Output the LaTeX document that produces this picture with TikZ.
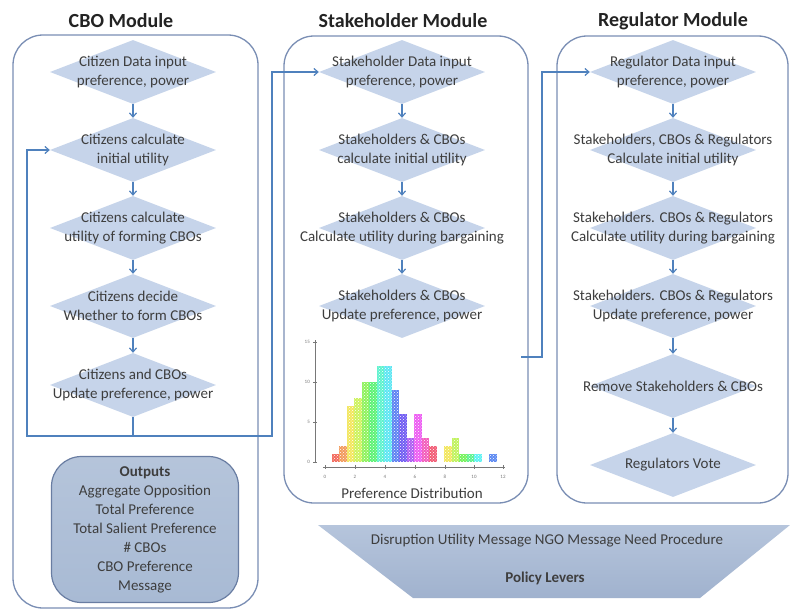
\documentclass[tikz,border=0pt]{standalone}
\usepackage{fontspec}
\setmainfont{Carlito}
\usetikzlibrary{shapes.geometric,arrows.meta,patterns}
\definecolor{diafill}{RGB}{198,212,234}
\definecolor{txt}{RGB}{62,62,62}
\definecolor{titlecol}{RGB}{35,35,35}
\definecolor{boxline}{RGB}{122,142,180}
\definecolor{arrowblue}{RGB}{79,129,189}
\definecolor{outfill}{RGB}{168,186,212}
\definecolor{outline}{RGB}{105,125,162}
\definecolor{poltop}{RGB}{182,197,220}
\definecolor{polbot}{RGB}{160,178,206}
\definecolor{axisgray}{RGB}{120,120,120}
\tikzset{
  dia/.style={shape=diamond, fill=diafill, draw=none, minimum width=166pt, minimum height=64pt, inner sep=0pt},
  dtext/.style={font=\fontsize{15}{18.5}\selectfont, text=txt, align=center, inner sep=0pt},
  modbox/.style={draw=boxline, line width=1.3pt, rounded corners=30pt, inner sep=0pt},
  modtitle/.style={font=\fontsize{20}{24}\selectfont\bfseries, text=titlecol},
  conn/.style={draw=arrowblue, line width=1.2pt},
  arr/.style={conn, -{Straight Barb[length=4pt,width=7pt,line width=1.2pt]}},
  outbox/.style={draw=outline, line width=1.2pt, top color=outfill!85!white, bottom color=outfill, rounded corners=30pt, inner sep=0pt},
  smalllab/.style={font=\fontsize{5}{6}\selectfont, text=axisgray, inner sep=0pt},
}
\begin{document}
\begin{tikzpicture}[x=1pt,y=-1pt]
\fill[white] (0,0) rectangle (791,610);
\useasboundingbox (0,0) rectangle (791,610);

% titles
\node[modtitle] (tcbo) at (121,21) {CBO Module};
\node[modtitle] (tstk) at (403,21) {Stakeholder Module};
\node[modtitle] (treg) at (673,21) {Regulator Module};

% module boxes
\node[modbox, minimum width=245pt, minimum height=573pt] (cbobox) at (135.5,321.5) {};
\node[modbox, minimum width=244pt, minimum height=467pt] (stkbox) at (406,269.5) {};
\node[modbox, minimum width=231pt, minimum height=467pt] (regbox) at (672.5,269.5) {};

% CBO diamonds
\node[dia] (c1) at (133,72) {};
\node[dia] (c2) at (133,150) {};
\node[dia] (c3) at (133,228) {};
\node[dia] (c4) at (133,306) {};
\node[dia] (c5) at (133,385) {};
\node[dtext] (c1t) at (c1) {Citizen Data input\\preference, power};
\node[dtext] (c2t) at (c2) {Citizens calculate\\initial utility};
\node[dtext] (c3t) at (c3) {Citizens calculate\\utility of forming CBOs};
\node[dtext] (c4t) at (c4) {Citizens decide\\Whether to form CBOs};
\node[dtext] (c5t) at (c5) {Citizens and CBOs\\Update preference, power};

% Stakeholder diamonds
\node[dia] (s1) at (402,72) {};
\node[dia] (s2) at (402,150) {};
\node[dia] (s3) at (402,228) {};
\node[dia] (s4) at (402,306) {};
\node[dtext] (s1t) at (s1) {Stakeholder Data input\\preference, power};
\node[dtext] (s2t) at (s2) {Stakeholders \& CBOs\\calculate initial utility};
\node[dtext] (s3t) at (s3) {Stakeholders \& CBOs\\Calculate utility during bargaining};
\node[dtext] (s4t) at (s4) {Stakeholders \& CBOs\\Update preference, power};

% Regulator diamonds
\node[dia] (r1) at (673,72) {};
\node[dia] (r2) at (673,150) {};
\node[dia] (r3) at (673,228) {};
\node[dia] (r4) at (673,306) {};
\node[dia] (r5) at (673,386) {};
\node[dia] (r6) at (673,465) {};
\node[dtext] (r1t) at (r1) {Regulator Data input\\preference, power};
\node[dtext] (r2t) at (r2) {Stakeholders, CBOs \& Regulators\\Calculate initial utility};
\node[dtext] (r3t) at (r3) {Stakeholders. CBOs \& Regulators\\Calculate utility during bargaining};
\node[dtext] (r4t) at (r4) {Stakeholders. CBOs \& Regulators\\Update preference, power};
\node[dtext] (r5t) at (r5) {Remove Stakeholders \& CBOs};
\node[dtext] (r6t) at (r6) {Regulators Vote};

% down arrows
\foreach \a/\b in {c1/c2,c2/c3,c3/c4,c4/c5,s1/s2,s2/s3,s3/s4,r1/r2,r2/r3,r3/r4,r4/r5,r5/r6}
  \draw[arr] (\a.south) -- (\b.north);

% loop and cross-module connectors
\coordinate (cj) at (133,436);
\coordinate (cl) at (27,436);
\coordinate (cr) at (272,436);
\draw[conn] (c5.south) -- (cj);
\draw[arr] (cj) -- (cl) |- (c2.west);
\draw[arr] (cj) -- (cr) |- (s1.west);
\coordinate (ss) at (521,357);
\coordinate (sr) at (542,357);
\draw[arr] (ss) -- (sr) |- (r1.west);

% histogram
\draw[axisgray, line width=0.8pt] (315,340) -- (315,463);
\draw[axisgray, line width=0.8pt] (323,467) -- (505,467);
\foreach \v/\yy in {0/462,5/422,10/382,15/342} {
  \draw[axisgray, line width=0.6pt] (313,\yy) -- (317,\yy);
  \node[smalllab, anchor=east] (yl\v) at (310,\yy) {\v};
}
\foreach \v/\xx in {0/325,2/355,4/385,6/415,8/445,10/474,12/503} {
  \draw[axisgray, line width=0.6pt] (\xx,465) -- (\xx,469);
  \node[smalllab] (xl\v) at (\xx,477) {\v};
}
\foreach \i/\h/\hue in {0/1/5, 1/2/25, 2/7/55, 3/8/75, 4/10/100, 5/10/130, 6/12/165, 7/12/185, 8/9/225, 9/6/248, 10/3/272, 11/6/298, 12/3/322, 13/2/350, 15/2/55, 16/3/80, 17/1/110, 18/1/140, 19/1/180, 21/1/222} {
  \definecolor{barc}{Hsb}{\hue,0.62,0.95}
  \fill[barc] (331.7+\i*7.5,462) rectangle ++(7.5,-\h*8);
  \fill[pattern=crosshatch dots, pattern color=white] (331.7+\i*7.5,462) rectangle ++(7.5,-\h*8);
}
\node[dtext] (hlab) at (412,493) {Preference Distribution};

% outputs
\node[outbox, minimum width=187pt, minimum height=146pt] (outs) at (145,529.5) {};
\node[dtext, font=\fontsize{15}{19}\selectfont] (outt) at (outs) {\textbf{Outputs}\\Aggregate Opposition\\Total Preference\\Total Salient Preference\\\# CBOs\\CBO Preference\\Message};

% policy levers
\path[top color=poltop, bottom color=polbot] (318,525) -- (790,525) -- (700,598) -- (413,598) -- cycle;
\node[dtext] (pl1) at (547,541) {Disruption Utility Message NGO Message Need Procedure};
\node[dtext] (pl2) at (545,578) {\textbf{Policy Levers}};
\end{tikzpicture}
\end{document}
